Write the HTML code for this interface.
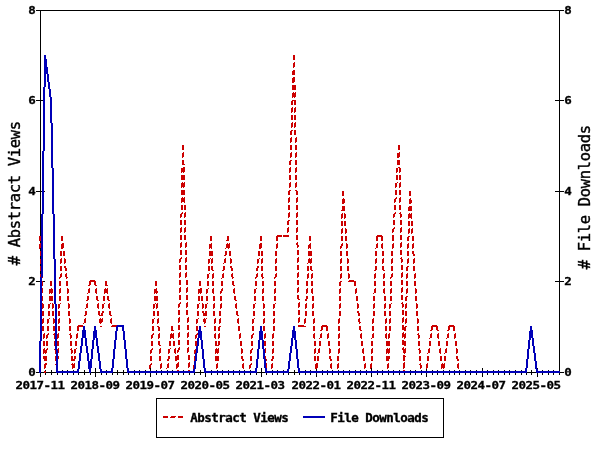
<!DOCTYPE html>
<html><head><meta charset="utf-8"><title>Abstract Views / File Downloads</title>
<style>html,body{margin:0;padding:0;background:#fff}svg{display:block}text{font-family:"DejaVu Sans Mono","Liberation Mono",monospace;font-weight:bold;fill:#000}.s{font-size:12.5px;letter-spacing:-0.526px;stroke:#000;stroke-width:0.35px}.g{font-size:15.5px;letter-spacing:-0.332px;font-weight:normal;stroke:#000;stroke-width:0.38px}</style></head><body>
<svg width="600" height="450" viewBox="0 0 600 450">
<rect width="600" height="450" fill="#fff"/>
<g shape-rendering="crispEdges" fill="none" stroke="#000" stroke-width="1">
<rect x="40.5" y="10.5" width="519" height="362"/>
<path d="M36,372.5H45M555,372.5H564M36,281.5H45M555,281.5H564M36,191.5H45M555,191.5H564M36,100.5H45M555,100.5H564M36,10.5H45M555,10.5H564M40.5,368V377M45.5,370V375M51.5,370V375M57.5,370V375M62.5,370V375M67.5,370V375M73.5,370V375M78.5,370V375M84.5,370V375M90.5,370V375M95.5,368V377M101.5,370V375M106.5,370V375M112.5,370V375M117.5,370V375M123.5,370V375M128.5,370V375M134.5,370V375M139.5,370V375M145.5,370V375M150.5,368V377M156.5,370V375M161.5,370V375M167.5,370V375M172.5,370V375M178.5,370V375M183.5,370V375M189.5,370V375M194.5,370V375M200.5,370V375M205.5,368V377M211.5,370V375M217.5,370V375M222.5,370V375M228.5,370V375M233.5,370V375M239.5,370V375M244.5,370V375M250.5,370V375M256.5,370V375M261.5,368V377M266.5,370V375M272.5,370V375M277.5,370V375M283.5,370V375M288.5,370V375M294.5,370V375M299.5,370V375M305.5,370V375M310.5,370V375M316.5,368V377M322.5,370V375M327.5,370V375M332.5,370V375M338.5,370V375M343.5,370V375M349.5,370V375M355.5,370V375M360.5,370V375M366.5,370V375M371.5,368V377M377.5,370V375M382.5,370V375M388.5,370V375M393.5,370V375M399.5,370V375M404.5,370V375M410.5,370V375M415.5,370V375M421.5,370V375M426.5,368V377M432.5,370V375M437.5,370V375M443.5,370V375M449.5,370V375M454.5,370V375M459.5,370V375M465.5,370V375M470.5,370V375M476.5,370V375M482.5,368V377M487.5,370V375M493.5,370V375M498.5,370V375M504.5,370V375M509.5,370V375M515.5,370V375M521.5,370V375M526.5,370V375M531.5,370V375M537.5,368V377M542.5,370V375M548.5,370V375M553.5,370V375M559.5,370V375"/>
<rect x="156.5" y="398.5" width="287" height="39"/>
</g>
<g shape-rendering="crispEdges" stroke="none">
<path fill="#cc0000" d="M293 55h2v5h-2zM294 62h1v1h-1zM293 63h2v4h-2zM293 67h1v1h-1zM293 70h2v1h-2zM292 71h3v4h-3zM293 77h2v1h-2zM292 78h3v4h-3zM292 82h2v1h-2zM292 85h4v5h-4zM293 92h1v1h-1zM295 92h1v1h-1zM292 93h4v4h-4zM292 97h1v1h-1zM294 97h1v1h-1zM292 100h4v1h-4zM291 101h2v4h-2zM294 101h2v4h-2zM292 107h1v1h-1zM295 107h1v1h-1zM291 108h2v4h-2zM294 108h2v4h-2zM291 112h1v1h-1zM294 112h1v1h-1zM291 115h2v5h-2zM294 115h2v5h-2zM292 122h1v1h-1zM295 122h1v1h-1zM291 123h2v4h-2zM294 123h2v4h-2zM291 127h1v1h-1zM294 127h1v1h-1zM291 130h2v1h-2zM290 131h2v4h-2zM294 130h2v5h-2zM291 137h1v1h-1zM296 137h1v1h-1zM290 138h2v4h-2zM295 138h2v4h-2zM290 142h1v1h-1zM295 142h1v1h-1zM182 145h2v5h-2zM290 145h2v5h-2zM295 145h2v5h-2zM398 145h2v5h-2zM183 152h1v1h-1zM291 152h1v1h-1zM296 152h1v1h-1zM399 152h1v1h-1zM182 153h2v4h-2zM290 153h2v4h-2zM295 153h2v4h-2zM397 153h3v4h-3zM182 157h1v1h-1zM290 157h1v1h-1zM295 157h1v1h-1zM397 157h2v1h-2zM290 160h2v1h-2zM182 160h2v4h-2zM182 164h3v1h-3zM289 161h2v4h-2zM295 160h2v5h-2zM397 160h3v5h-3zM183 167h2v1h-2zM290 167h1v1h-1zM296 167h1v1h-1zM398 167h2v1h-2zM181 168h4v4h-4zM289 168h2v4h-2zM295 168h2v4h-2zM396 168h2v4h-2zM399 168h2v4h-2zM181 172h1v1h-1zM183 172h1v1h-1zM289 172h1v1h-1zM295 172h1v1h-1zM396 172h1v1h-1zM399 172h1v1h-1zM181 175h4v5h-4zM289 175h2v5h-2zM295 175h2v5h-2zM396 175h2v5h-2zM399 175h2v5h-2zM182 182h1v1h-1zM184 182h1v1h-1zM290 182h1v1h-1zM296 182h1v1h-1zM397 182h1v1h-1zM400 182h1v1h-1zM181 183h4v4h-4zM289 183h2v4h-2zM295 183h2v4h-2zM395 183h2v4h-2zM399 183h2v4h-2zM181 187h1v1h-1zM183 187h1v1h-1zM289 187h1v1h-1zM295 187h1v1h-1zM395 187h1v1h-1zM399 187h1v1h-1zM289 190h2v1h-2zM295 190h2v1h-2zM181 190h4v5h-4zM288 191h2v4h-2zM296 191h2v4h-2zM395 190h2v5h-2zM399 190h2v5h-2zM342 191h2v5h-2zM409 191h2v5h-2zM182 197h1v1h-1zM184 197h1v1h-1zM289 197h1v1h-1zM297 197h1v1h-1zM396 197h1v1h-1zM400 197h1v1h-1zM343 198h1v1h-1zM395 198h2v1h-2zM410 198h1v1h-1zM409 199h2v1h-2zM181 198h4v4h-4zM288 198h2v4h-2zM296 198h2v4h-2zM394 199h2v3h-2zM399 198h2v4h-2zM181 202h1v1h-1zM184 202h1v1h-1zM288 202h1v1h-1zM296 202h1v1h-1zM342 199h3v4h-3zM394 202h1v1h-1zM399 202h1v1h-1zM409 200h3v3h-3zM342 203h2v1h-2zM409 203h2v1h-2zM409 206h3v1h-3zM181 205h2v5h-2zM184 205h2v5h-2zM288 205h2v5h-2zM296 205h2v5h-2zM342 206h3v4h-3zM394 205h2v5h-2zM399 205h2v5h-2zM341 210h4v1h-4zM408 207h4v4h-4zM182 212h1v1h-1zM185 212h1v1h-1zM289 212h1v1h-1zM297 212h1v1h-1zM395 212h1v1h-1zM400 212h1v1h-1zM181 213h2v1h-2zM342 213h1v1h-1zM344 213h1v1h-1zM394 213h2v1h-2zM399 213h2v1h-2zM409 213h1v1h-1zM411 213h1v1h-1zM180 214h2v3h-2zM184 213h2v4h-2zM288 213h2v4h-2zM296 213h2v4h-2zM393 214h2v3h-2zM400 214h2v3h-2zM180 217h1v1h-1zM184 217h1v1h-1zM288 217h1v1h-1zM296 217h1v1h-1zM341 214h2v4h-2zM344 214h2v4h-2zM393 217h1v1h-1zM400 217h1v1h-1zM408 214h4v4h-4zM341 218h1v1h-1zM344 218h1v1h-1zM408 218h1v1h-1zM411 218h1v1h-1zM288 220h2v1h-2zM180 220h2v5h-2zM184 220h2v5h-2zM287 221h2v4h-2zM296 220h2v5h-2zM393 220h2v5h-2zM400 220h2v5h-2zM341 221h2v5h-2zM344 221h2v5h-2zM408 221h2v5h-2zM411 221h2v5h-2zM181 227h1v1h-1zM185 227h1v1h-1zM288 227h1v1h-1zM297 227h1v1h-1zM394 227h1v1h-1zM401 227h1v1h-1zM342 228h1v1h-1zM345 228h1v1h-1zM393 228h2v1h-2zM409 228h1v1h-1zM412 228h1v1h-1zM180 228h2v4h-2zM184 228h2v4h-2zM287 228h2v4h-2zM296 228h2v4h-2zM392 229h2v3h-2zM400 228h2v4h-2zM180 232h1v1h-1zM184 232h1v1h-1zM287 232h1v1h-1zM296 232h1v1h-1zM341 229h2v4h-2zM345 229h2v4h-2zM392 232h1v1h-1zM400 232h1v1h-1zM408 229h2v4h-2zM411 229h2v4h-2zM341 233h1v1h-1zM345 233h1v1h-1zM408 233h1v1h-1zM411 233h1v1h-1zM277 235h5v1h-5zM377 235h5v1h-5zM276 236h6v1h-6zM283 235h6v2h-6zM376 236h7v1h-7zM408 236h2v1h-2zM180 235h2v5h-2zM184 235h2v5h-2zM227 236h2v4h-2zM296 235h2v5h-2zM400 235h2v5h-2zM39 236h2v5h-2zM61 236h2v5h-2zM210 236h2v5h-2zM226 240h3v1h-3zM260 236h2v5h-2zM276 237h2v4h-2zM309 236h2v5h-2zM341 236h2v5h-2zM345 236h2v5h-2zM376 237h2v4h-2zM381 237h2v4h-2zM392 235h2v6h-2zM407 237h2v4h-2zM412 236h2v5h-2zM181 242h1v1h-1zM186 242h1v1h-1zM297 242h1v1h-1zM401 242h1v1h-1zM40 243h1v1h-1zM62 243h2v1h-2zM211 243h1v1h-1zM227 243h1v1h-1zM229 243h1v1h-1zM260 243h2v1h-2zM277 243h1v1h-1zM310 243h1v1h-1zM342 243h1v1h-1zM346 243h1v1h-1zM377 243h1v1h-1zM382 243h1v1h-1zM393 243h1v1h-1zM408 243h1v1h-1zM413 243h1v1h-1zM296 243h2v2h-2zM309 244h2v1h-2zM341 244h2v2h-2zM180 243h2v4h-2zM185 243h2v4h-2zM297 245h2v2h-2zM400 243h2v4h-2zM39 244h2v4h-2zM61 244h3v4h-3zM180 247h1v1h-1zM185 247h1v1h-1zM209 244h3v4h-3zM226 244h4v4h-4zM259 244h3v4h-3zM276 244h2v4h-2zM297 247h1v1h-1zM308 245h3v3h-3zM340 246h2v2h-2zM346 244h2v4h-2zM376 244h2v4h-2zM381 244h2v4h-2zM392 244h2v4h-2zM400 247h1v1h-1zM407 244h2v4h-2zM412 244h2v4h-2zM39 248h1v1h-1zM61 248h2v1h-2zM209 248h1v1h-1zM211 248h1v1h-1zM225 248h1v1h-1zM228 248h1v1h-1zM259 248h2v1h-2zM276 248h1v1h-1zM308 248h1v1h-1zM310 248h1v1h-1zM340 248h1v1h-1zM346 248h1v1h-1zM375 248h1v1h-1zM382 248h1v1h-1zM392 248h1v1h-1zM407 248h1v1h-1zM412 248h1v1h-1zM412 251h2v3h-2zM180 250h2v5h-2zM185 250h2v5h-2zM225 251h2v4h-2zM297 250h2v5h-2zM400 250h2v5h-2zM40 251h1v5h-1zM60 251h2v5h-2zM63 251h2v5h-2zM209 251h4v5h-4zM224 255h2v1h-2zM229 251h2v5h-2zM258 251h2v5h-2zM261 251h2v5h-2zM275 251h2v5h-2zM308 251h4v5h-4zM340 251h2v5h-2zM346 251h2v5h-2zM375 251h2v5h-2zM382 251h2v5h-2zM391 251h2v5h-2zM407 251h2v5h-2zM413 254h2v2h-2zM181 257h1v1h-1zM186 257h1v1h-1zM298 257h1v1h-1zM401 257h1v1h-1zM61 258h1v1h-1zM64 258h1v1h-1zM180 258h2v1h-2zM210 258h1v1h-1zM212 258h1v1h-1zM225 258h1v1h-1zM230 258h1v1h-1zM259 258h1v1h-1zM262 258h1v1h-1zM276 258h1v1h-1zM309 258h1v1h-1zM311 258h1v1h-1zM341 258h1v1h-1zM347 258h1v1h-1zM376 258h1v1h-1zM383 258h1v1h-1zM392 258h1v1h-1zM400 258h2v1h-2zM408 258h1v1h-1zM414 258h1v1h-1zM179 259h2v3h-2zM185 258h2v4h-2zM297 258h2v4h-2zM401 259h2v3h-2zM60 259h2v4h-2zM64 259h2v4h-2zM179 262h1v1h-1zM185 262h1v1h-1zM208 259h2v4h-2zM211 259h2v4h-2zM224 259h2v4h-2zM230 259h2v4h-2zM257 259h2v4h-2zM261 259h2v4h-2zM275 259h2v4h-2zM297 262h1v1h-1zM308 259h4v4h-4zM340 259h2v4h-2zM347 259h2v4h-2zM375 259h2v4h-2zM382 259h2v4h-2zM391 259h2v4h-2zM401 262h1v1h-1zM407 259h2v4h-2zM413 259h2v4h-2zM40 259h1v5h-1zM60 263h1v1h-1zM64 263h1v1h-1zM208 263h1v1h-1zM211 263h1v1h-1zM223 263h1v1h-1zM230 263h1v1h-1zM257 263h1v1h-1zM261 263h1v1h-1zM275 263h1v1h-1zM307 263h1v1h-1zM310 263h1v1h-1zM340 263h1v1h-1zM347 263h1v1h-1zM375 263h1v1h-1zM382 263h1v1h-1zM391 263h1v1h-1zM407 263h1v1h-1zM413 263h1v1h-1zM407 266h2v1h-2zM64 266h2v2h-2zM230 266h2v2h-2zM257 266h2v2h-2zM179 265h2v5h-2zM185 265h2v5h-2zM211 266h2v4h-2zM223 266h2v4h-2zM297 265h2v5h-2zM310 266h2v4h-2zM375 266h2v4h-2zM382 266h2v4h-2zM401 265h2v5h-2zM40 266h1v5h-1zM60 266h2v5h-2zM65 268h2v3h-2zM208 266h2v5h-2zM212 270h2v1h-2zM222 270h2v1h-2zM231 268h2v3h-2zM256 268h2v3h-2zM261 266h2v5h-2zM275 266h2v5h-2zM307 266h2v5h-2zM311 270h2v1h-2zM340 266h2v5h-2zM347 266h2v5h-2zM374 270h2v1h-2zM383 270h2v1h-2zM391 266h2v5h-2zM406 267h2v4h-2zM413 266h2v5h-2zM180 272h1v1h-1zM186 272h1v1h-1zM298 272h1v1h-1zM402 272h1v1h-1zM61 273h1v1h-1zM66 273h1v1h-1zM209 273h1v1h-1zM213 273h1v1h-1zM223 273h1v1h-1zM232 273h1v1h-1zM257 273h1v1h-1zM262 273h1v1h-1zM276 273h1v1h-1zM308 273h1v1h-1zM312 273h1v1h-1zM341 273h1v1h-1zM348 273h1v1h-1zM375 273h1v1h-1zM384 273h1v1h-1zM392 273h1v1h-1zM407 273h1v1h-1zM415 273h1v1h-1zM40 274h1v3h-1zM60 274h2v3h-2zM65 274h2v3h-2zM179 273h2v4h-2zM185 273h2v4h-2zM231 274h2v3h-2zM256 274h2v3h-2zM261 274h2v3h-2zM275 274h2v3h-2zM297 273h2v4h-2zM391 274h2v3h-2zM401 273h2v4h-2zM42 277h1v1h-1zM59 277h2v1h-2zM66 277h2v1h-2zM179 277h1v1h-1zM185 277h1v1h-1zM207 274h2v4h-2zM212 274h2v4h-2zM222 274h2v4h-2zM232 277h2v1h-2zM255 277h2v1h-2zM262 277h2v1h-2zM274 277h2v1h-2zM297 277h1v1h-1zM307 274h2v4h-2zM311 274h2v4h-2zM340 274h2v4h-2zM348 274h2v4h-2zM374 274h2v4h-2zM383 274h2v4h-2zM390 277h2v1h-2zM401 277h1v1h-1zM406 274h2v4h-2zM414 274h2v4h-2zM59 278h1v1h-1zM66 278h1v1h-1zM207 278h1v1h-1zM212 278h1v1h-1zM221 278h1v1h-1zM232 278h1v1h-1zM255 278h1v1h-1zM262 278h1v1h-1zM274 278h1v1h-1zM307 278h1v1h-1zM311 278h1v1h-1zM340 278h1v1h-1zM348 278h1v1h-1zM374 278h1v1h-1zM383 278h1v1h-1zM390 278h1v1h-1zM406 278h1v1h-1zM414 278h1v1h-1zM90 280h5v1h-5zM349 280h5v1h-5zM89 281h7v1h-7zM340 281h2v1h-2zM348 281h8v1h-8zM89 282h2v3h-2zM94 282h2v3h-2zM105 281h2v4h-2zM179 280h2v5h-2zM186 280h2v5h-2zM232 281h2v4h-2zM297 280h2v5h-2zM401 280h2v5h-2zM42 281h1v5h-1zM50 281h2v5h-2zM59 281h2v5h-2zM66 281h2v5h-2zM88 285h2v1h-2zM95 285h2v1h-2zM105 285h3v1h-3zM155 281h2v5h-2zM199 281h2v5h-2zM207 281h2v5h-2zM212 281h2v5h-2zM221 281h2v5h-2zM233 285h2v1h-2zM255 281h2v5h-2zM262 281h2v5h-2zM274 281h2v5h-2zM306 281h2v5h-2zM311 281h2v5h-2zM339 282h2v4h-2zM354 282h2v4h-2zM374 281h2v5h-2zM383 281h2v5h-2zM390 281h2v5h-2zM406 281h2v5h-2zM414 281h2v5h-2zM180 287h1v1h-1zM187 287h1v1h-1zM298 287h1v1h-1zM402 287h1v1h-1zM51 288h1v1h-1zM60 288h1v1h-1zM67 288h1v1h-1zM89 288h1v1h-1zM96 288h1v1h-1zM105 288h1v1h-1zM107 288h1v1h-1zM156 288h1v1h-1zM200 288h2v1h-2zM208 288h1v1h-1zM213 288h1v1h-1zM222 288h1v1h-1zM234 288h1v1h-1zM256 288h1v1h-1zM263 288h1v1h-1zM275 288h1v1h-1zM307 288h1v1h-1zM312 288h1v1h-1zM340 288h1v1h-1zM356 288h1v1h-1zM375 288h1v1h-1zM384 288h1v1h-1zM391 288h1v1h-1zM407 288h1v1h-1zM415 288h1v1h-1zM154 289h3v2h-3zM221 289h2v2h-2zM179 288h2v4h-2zM186 288h2v4h-2zM297 288h2v4h-2zM401 288h2v4h-2zM42 288h1v5h-1zM49 289h4v4h-4zM59 289h2v4h-2zM67 289h2v4h-2zM88 289h2v4h-2zM95 289h2v4h-2zM104 289h4v4h-4zM154 291h4v2h-4zM179 292h1v1h-1zM186 292h1v1h-1zM198 289h4v4h-4zM206 289h2v4h-2zM212 289h2v4h-2zM220 291h2v2h-2zM233 289h2v4h-2zM254 289h2v4h-2zM262 289h2v4h-2zM274 289h2v4h-2zM297 292h1v1h-1zM306 289h2v4h-2zM311 289h2v4h-2zM339 289h2v4h-2zM355 289h2v4h-2zM374 289h2v4h-2zM383 289h2v4h-2zM390 289h2v4h-2zM401 292h1v1h-1zM406 289h2v4h-2zM415 289h2v4h-2zM49 293h1v1h-1zM51 293h1v1h-1zM59 293h1v1h-1zM67 293h1v1h-1zM87 293h1v1h-1zM96 293h1v1h-1zM104 293h1v1h-1zM107 293h1v1h-1zM154 293h1v1h-1zM156 293h1v1h-1zM198 293h1v1h-1zM200 293h1v1h-1zM206 293h1v1h-1zM213 293h1v1h-1zM220 293h1v1h-1zM234 293h1v1h-1zM254 293h1v1h-1zM262 293h1v1h-1zM274 293h1v1h-1zM306 293h1v1h-1zM312 293h1v1h-1zM339 293h1v1h-1zM355 293h1v1h-1zM373 293h1v1h-1zM384 293h1v1h-1zM390 293h1v1h-1zM406 293h1v1h-1zM415 293h1v1h-1zM406 296h2v1h-2zM297 295h2v4h-2zM306 296h2v3h-2zM87 296h2v4h-2zM96 296h2v4h-2zM107 296h2v4h-2zM179 295h2v5h-2zM186 295h2v5h-2zM234 296h2v4h-2zM298 299h2v1h-2zM401 295h2v5h-2zM42 296h1v5h-1zM49 296h4v5h-4zM59 296h2v5h-2zM67 296h2v5h-2zM86 300h2v1h-2zM97 300h2v1h-2zM103 296h2v5h-2zM108 300h2v1h-2zM154 296h4v5h-4zM198 296h2v5h-2zM201 296h2v5h-2zM206 296h2v5h-2zM213 296h2v5h-2zM220 296h2v5h-2zM235 300h2v1h-2zM254 296h2v5h-2zM262 296h2v5h-2zM274 296h2v5h-2zM305 299h2v2h-2zM312 296h2v5h-2zM339 296h2v5h-2zM356 296h2v5h-2zM373 296h2v5h-2zM384 296h2v5h-2zM390 296h2v5h-2zM405 297h2v4h-2zM415 296h2v5h-2zM180 302h1v1h-1zM187 302h1v1h-1zM299 302h1v1h-1zM402 302h1v1h-1zM42 303h1v1h-1zM50 303h1v1h-1zM52 303h1v1h-1zM60 303h1v1h-1zM68 303h1v1h-1zM87 303h1v1h-1zM98 303h1v1h-1zM104 303h1v1h-1zM109 303h1v1h-1zM155 303h1v1h-1zM157 303h1v1h-1zM179 303h2v1h-2zM199 303h1v1h-1zM202 303h1v1h-1zM207 303h1v1h-1zM214 303h1v1h-1zM221 303h1v1h-1zM236 303h1v1h-1zM255 303h1v1h-1zM263 303h1v1h-1zM275 303h1v1h-1zM306 303h1v1h-1zM313 303h1v1h-1zM340 303h1v1h-1zM357 303h1v1h-1zM374 303h1v1h-1zM385 303h1v1h-1zM391 303h1v1h-1zM401 303h2v1h-2zM406 303h1v1h-1zM416 303h1v1h-1zM178 304h2v3h-2zM186 303h2v4h-2zM298 303h2v4h-2zM402 304h2v3h-2zM42 304h2v4h-2zM48 304h2v4h-2zM52 304h2v4h-2zM58 304h2v4h-2zM68 304h2v4h-2zM86 304h2v4h-2zM97 304h2v4h-2zM102 304h2v4h-2zM108 304h2v4h-2zM153 304h2v4h-2zM156 304h2v4h-2zM178 307h1v1h-1zM186 307h1v1h-1zM197 304h2v4h-2zM202 304h2v4h-2zM205 304h2v4h-2zM213 304h2v4h-2zM220 304h2v4h-2zM235 304h2v4h-2zM253 304h2v4h-2zM263 304h2v4h-2zM273 304h2v4h-2zM298 307h1v1h-1zM305 304h2v4h-2zM312 304h2v4h-2zM339 304h2v4h-2zM357 304h2v4h-2zM373 304h2v4h-2zM384 304h2v4h-2zM389 304h2v4h-2zM402 307h1v1h-1zM405 304h2v4h-2zM416 304h2v4h-2zM42 308h1v1h-1zM48 308h1v1h-1zM52 308h1v1h-1zM58 308h1v1h-1zM68 308h1v1h-1zM85 308h1v1h-1zM98 308h1v1h-1zM102 308h1v1h-1zM109 308h1v1h-1zM153 308h1v1h-1zM156 308h1v1h-1zM197 308h1v1h-1zM202 308h1v1h-1zM205 308h1v1h-1zM213 308h1v1h-1zM220 308h1v1h-1zM236 308h1v1h-1zM253 308h1v1h-1zM263 308h1v1h-1zM273 308h1v1h-1zM305 308h1v1h-1zM312 308h1v1h-1zM339 308h1v1h-1zM357 308h1v1h-1zM373 308h1v1h-1zM384 308h1v1h-1zM389 308h1v1h-1zM405 308h1v1h-1zM416 308h1v1h-1zM102 311h2v2h-2zM202 311h2v2h-2zM205 311h2v2h-2zM357 311h2v2h-2zM85 311h2v4h-2zM98 311h2v4h-2zM101 313h2v2h-2zM109 311h2v4h-2zM178 310h2v5h-2zM186 310h2v5h-2zM236 311h2v4h-2zM298 310h2v5h-2zM402 310h2v5h-2zM42 311h2v5h-2zM48 311h2v5h-2zM52 311h2v5h-2zM58 311h2v5h-2zM68 311h2v5h-2zM84 315h2v1h-2zM99 315h4v1h-4zM110 315h2v1h-2zM153 311h2v5h-2zM157 311h2v5h-2zM197 311h2v5h-2zM203 313h4v3h-4zM213 311h2v5h-2zM219 311h2v5h-2zM237 315h2v1h-2zM253 311h2v5h-2zM263 311h2v5h-2zM273 311h2v5h-2zM305 311h2v5h-2zM312 311h2v5h-2zM339 311h2v5h-2zM358 313h2v3h-2zM373 311h2v5h-2zM384 311h2v5h-2zM389 311h2v5h-2zM405 311h2v5h-2zM416 311h2v5h-2zM179 317h1v1h-1zM188 317h1v1h-1zM299 317h1v1h-1zM403 317h1v1h-1zM43 318h1v1h-1zM49 318h1v1h-1zM53 318h1v1h-1zM59 318h1v1h-1zM69 318h1v1h-1zM85 318h1v1h-1zM100 318h1v1h-1zM102 318h1v1h-1zM111 318h1v1h-1zM154 318h1v1h-1zM158 318h1v1h-1zM198 318h1v1h-1zM204 318h1v1h-1zM206 318h1v1h-1zM215 318h1v1h-1zM220 318h1v1h-1zM238 318h1v1h-1zM254 318h1v1h-1zM264 318h1v1h-1zM274 318h1v1h-1zM305 318h1v1h-1zM314 318h1v1h-1zM339 318h1v1h-1zM359 318h1v1h-1zM373 318h1v1h-1zM386 318h1v1h-1zM390 318h1v1h-1zM406 318h1v1h-1zM417 318h1v1h-1zM99 319h4v3h-4zM178 318h2v4h-2zM187 318h2v4h-2zM203 319h3v3h-3zM298 318h2v4h-2zM358 319h2v3h-2zM402 318h2v4h-2zM42 319h2v4h-2zM47 319h2v4h-2zM53 319h2v4h-2zM58 319h2v4h-2zM69 319h2v4h-2zM84 319h2v4h-2zM99 322h3v1h-3zM110 319h2v4h-2zM152 319h2v4h-2zM157 319h2v4h-2zM178 322h1v1h-1zM187 322h1v1h-1zM196 319h2v4h-2zM204 322h2v1h-2zM214 319h2v4h-2zM219 319h2v4h-2zM237 319h2v4h-2zM252 319h2v4h-2zM263 319h2v4h-2zM273 319h2v4h-2zM298 322h1v1h-1zM304 319h2v4h-2zM313 319h2v4h-2zM338 319h2v4h-2zM359 322h2v1h-2zM372 319h2v4h-2zM385 319h2v4h-2zM389 319h2v4h-2zM402 322h1v1h-1zM405 319h2v4h-2zM417 319h2v4h-2zM42 323h1v1h-1zM47 323h1v1h-1zM53 323h1v1h-1zM58 323h1v1h-1zM69 323h1v1h-1zM83 323h1v1h-1zM100 323h1v1h-1zM111 323h1v1h-1zM152 323h1v1h-1zM157 323h1v1h-1zM196 323h1v1h-1zM204 323h1v1h-1zM214 323h1v1h-1zM219 323h1v1h-1zM238 323h1v1h-1zM252 323h1v1h-1zM263 323h1v1h-1zM273 323h1v1h-1zM304 323h1v1h-1zM313 323h1v1h-1zM338 323h1v1h-1zM359 323h1v1h-1zM372 323h1v1h-1zM385 323h1v1h-1zM389 323h1v1h-1zM405 323h1v1h-1zM417 323h1v1h-1zM78 325h5v1h-5zM112 325h5v1h-5zM298 325h6v1h-6zM322 325h5v1h-5zM432 325h5v1h-5zM449 325h5v1h-5zM77 326h6v1h-6zM100 326h2v1h-2zM111 326h5v1h-5zM157 326h2v1h-2zM204 326h2v1h-2zM219 326h2v1h-2zM298 326h8v1h-8zM321 326h7v1h-7zM402 325h2v2h-2zM405 326h2v1h-2zM431 326h7v1h-7zM448 326h7v1h-7zM171 326h2v4h-2zM178 325h2v5h-2zM187 325h2v5h-2zM321 327h2v3h-2zM359 326h2v4h-2zM402 327h4v3h-4zM431 327h2v3h-2zM436 327h2v3h-2zM448 327h2v3h-2zM42 326h2v5h-2zM47 326h2v5h-2zM53 326h2v5h-2zM58 326h2v5h-2zM69 326h2v5h-2zM77 327h2v4h-2zM152 326h2v5h-2zM158 327h2v4h-2zM171 330h3v1h-3zM196 326h2v5h-2zM214 326h2v5h-2zM218 327h2v4h-2zM238 326h2v5h-2zM252 326h2v5h-2zM263 326h2v5h-2zM273 326h2v5h-2zM313 326h2v5h-2zM320 330h2v1h-2zM326 327h2v4h-2zM338 326h2v5h-2zM360 330h2v1h-2zM372 326h2v5h-2zM385 326h2v5h-2zM389 326h2v5h-2zM404 330h2v1h-2zM417 326h2v5h-2zM430 330h2v1h-2zM437 330h2v1h-2zM447 330h2v1h-2zM453 327h2v4h-2zM179 332h1v1h-1zM188 332h1v1h-1zM403 332h1v1h-1zM44 333h1v1h-1zM48 333h1v1h-1zM54 333h1v1h-1zM58 333h1v1h-1zM70 333h1v1h-1zM77 333h1v1h-1zM153 333h1v1h-1zM159 333h1v1h-1zM171 333h1v1h-1zM173 333h1v1h-1zM197 333h1v1h-1zM215 333h1v1h-1zM219 333h1v1h-1zM240 333h1v1h-1zM253 333h1v1h-1zM265 333h1v1h-1zM273 333h1v1h-1zM314 333h1v1h-1zM321 333h1v1h-1zM328 333h1v1h-1zM339 333h1v1h-1zM361 333h1v1h-1zM373 333h1v1h-1zM386 333h1v1h-1zM389 333h1v1h-1zM402 333h2v1h-2zM405 333h1v1h-1zM418 333h1v1h-1zM431 333h1v1h-1zM438 333h1v1h-1zM448 333h1v1h-1zM455 333h1v1h-1zM47 334h2v1h-2zM53 334h2v1h-2zM69 334h2v1h-2zM152 334h2v1h-2zM196 334h2v1h-2zM252 334h2v1h-2zM417 334h2v1h-2zM178 333h2v4h-2zM187 333h2v4h-2zM402 334h4v3h-4zM43 334h2v4h-2zM46 335h2v3h-2zM57 334h2v4h-2zM70 335h2v3h-2zM76 334h2v4h-2zM151 335h2v3h-2zM158 334h2v4h-2zM170 334h4v4h-4zM178 337h1v1h-1zM187 337h1v1h-1zM195 335h2v3h-2zM214 334h2v4h-2zM218 334h2v4h-2zM239 334h2v4h-2zM251 335h2v3h-2zM264 334h2v4h-2zM272 334h2v4h-2zM313 334h2v4h-2zM320 334h2v4h-2zM327 334h2v4h-2zM338 334h2v4h-2zM360 334h2v4h-2zM372 334h2v4h-2zM385 334h2v4h-2zM388 334h2v4h-2zM402 337h1v1h-1zM404 337h2v1h-2zM418 335h2v3h-2zM430 334h2v4h-2zM437 334h2v4h-2zM447 334h2v4h-2zM454 334h2v4h-2zM43 338h1v1h-1zM46 338h1v1h-1zM54 335h1v4h-1zM57 338h1v1h-1zM70 338h1v1h-1zM76 338h1v1h-1zM151 338h1v1h-1zM158 338h1v1h-1zM170 338h1v1h-1zM173 338h1v1h-1zM195 338h1v1h-1zM215 338h1v1h-1zM218 338h1v1h-1zM239 338h1v1h-1zM251 338h1v1h-1zM264 338h1v1h-1zM272 338h1v1h-1zM314 338h1v1h-1zM319 338h1v1h-1zM327 338h1v1h-1zM338 338h1v1h-1zM361 338h1v1h-1zM371 338h1v1h-1zM386 338h1v1h-1zM388 338h1v1h-1zM404 338h1v1h-1zM418 338h1v1h-1zM429 338h1v1h-1zM438 338h1v1h-1zM446 338h1v1h-1zM454 338h1v1h-1zM402 340h2v1h-2zM158 341h2v4h-2zM178 340h2v5h-2zM187 340h2v5h-2zM215 341h2v4h-2zM218 341h2v4h-2zM402 341h4v4h-4zM43 341h2v5h-2zM46 341h2v5h-2zM54 341h1v5h-1zM57 341h2v5h-2zM70 341h2v5h-2zM75 341h2v5h-2zM151 341h2v5h-2zM159 345h2v1h-2zM169 341h2v5h-2zM173 341h2v5h-2zM195 341h2v5h-2zM215 345h4v1h-4zM240 341h2v5h-2zM251 341h2v5h-2zM264 341h2v5h-2zM272 341h2v5h-2zM314 341h2v5h-2zM319 341h2v5h-2zM328 341h2v5h-2zM338 341h2v5h-2zM361 341h2v5h-2zM371 341h2v5h-2zM386 341h4v5h-4zM404 345h2v1h-2zM418 341h2v5h-2zM429 341h2v5h-2zM438 341h2v5h-2zM446 341h2v5h-2zM455 341h2v5h-2zM179 347h1v1h-1zM188 347h1v1h-1zM403 347h1v1h-1zM44 348h1v1h-1zM47 348h1v1h-1zM58 348h1v1h-1zM71 348h1v1h-1zM76 348h1v1h-1zM152 348h1v1h-1zM160 348h1v1h-1zM170 348h1v1h-1zM175 348h1v1h-1zM216 348h1v1h-1zM218 348h1v1h-1zM241 348h1v1h-1zM252 348h1v1h-1zM273 348h1v1h-1zM315 348h1v1h-1zM319 348h1v1h-1zM329 348h1v1h-1zM339 348h1v1h-1zM363 348h1v1h-1zM372 348h1v1h-1zM387 348h1v1h-1zM389 348h1v1h-1zM402 348h2v1h-2zM405 348h1v1h-1zM419 348h1v1h-1zM429 348h1v1h-1zM440 348h1v1h-1zM446 348h1v1h-1zM456 348h1v1h-1zM43 349h2v1h-2zM46 349h2v1h-2zM54 349h1v1h-1zM57 349h2v1h-2zM70 349h2v1h-2zM151 349h2v1h-2zM178 348h2v2h-2zM195 349h1v1h-1zM251 349h2v1h-2zM402 349h4v1h-4zM418 349h2v1h-2zM177 350h2v2h-2zM187 348h2v4h-2zM43 350h4v3h-4zM58 350h1v3h-1zM71 350h2v3h-2zM74 349h2v4h-2zM150 350h2v3h-2zM159 349h2v4h-2zM168 349h2v4h-2zM174 349h2v4h-2zM177 352h1v1h-1zM187 352h1v1h-1zM194 350h2v3h-2zM215 349h4v4h-4zM241 349h2v4h-2zM250 350h2v3h-2zM265 348h1v5h-1zM272 349h2v4h-2zM314 349h2v4h-2zM318 349h2v4h-2zM329 349h2v4h-2zM338 349h2v4h-2zM362 349h2v4h-2zM371 349h2v4h-2zM386 349h4v4h-4zM403 350h3v3h-3zM419 350h2v3h-2zM428 349h2v4h-2zM439 349h2v4h-2zM445 349h2v4h-2zM456 349h2v4h-2zM43 353h1v1h-1zM45 353h1v1h-1zM55 350h1v4h-1zM71 353h1v1h-1zM74 353h1v1h-1zM150 353h1v1h-1zM159 353h1v1h-1zM168 353h1v1h-1zM175 353h1v1h-1zM194 353h1v1h-1zM215 353h1v1h-1zM217 353h1v1h-1zM241 353h1v1h-1zM250 353h1v1h-1zM272 353h1v1h-1zM314 353h1v1h-1zM317 353h1v1h-1zM329 353h1v1h-1zM338 353h1v1h-1zM363 353h1v1h-1zM371 353h1v1h-1zM386 353h1v1h-1zM388 353h1v1h-1zM404 353h1v1h-1zM419 353h1v1h-1zM427 353h1v1h-1zM440 353h1v1h-1zM444 353h1v1h-1zM456 353h1v1h-1zM177 355h2v1h-2zM403 355h2v1h-2zM403 356h3v1h-3zM43 356h4v3h-4zM58 356h1v3h-1zM71 356h2v3h-2zM74 356h2v3h-2zM168 356h2v3h-2zM241 356h2v3h-2zM265 356h1v3h-1zM272 356h2v3h-2zM329 356h2v3h-2zM386 356h4v3h-4zM456 356h2v3h-2zM175 356h4v4h-4zM188 355h2v5h-2zM44 359h3v2h-3zM55 356h1v5h-1zM71 359h4v2h-4zM150 356h2v5h-2zM159 356h2v5h-2zM167 359h2v2h-2zM175 360h2v1h-2zM194 356h1v5h-1zM215 356h4v5h-4zM242 359h2v2h-2zM250 356h2v5h-2zM266 359h1v2h-1zM271 359h2v2h-2zM314 356h2v5h-2zM317 356h2v5h-2zM330 359h2v2h-2zM337 356h2v5h-2zM363 356h2v5h-2zM371 356h2v5h-2zM386 359h3v2h-3zM403 357h2v4h-2zM419 356h2v5h-2zM427 356h2v5h-2zM440 356h2v5h-2zM444 356h2v5h-2zM457 359h2v2h-2zM178 362h1v1h-1zM189 362h1v1h-1zM404 362h1v1h-1zM45 363h2v1h-2zM72 363h1v1h-1zM74 363h1v1h-1zM151 363h1v1h-1zM161 363h1v1h-1zM168 363h1v1h-1zM177 363h2v1h-2zM217 363h1v1h-1zM243 363h1v1h-1zM251 363h1v1h-1zM272 363h1v1h-1zM316 363h2v1h-2zM331 363h1v1h-1zM338 363h1v1h-1zM365 363h1v1h-1zM371 363h1v1h-1zM388 363h1v1h-1zM420 363h1v1h-1zM427 363h1v1h-1zM442 363h1v1h-1zM444 363h1v1h-1zM458 363h1v1h-1zM44 364h3v1h-3zM55 364h1v1h-1zM71 364h4v1h-4zM150 364h2v1h-2zM250 364h2v1h-2zM419 364h2v1h-2zM176 364h3v3h-3zM188 363h2v4h-2zM44 365h2v3h-2zM72 365h3v3h-3zM149 365h2v3h-2zM160 364h2v4h-2zM167 364h2v4h-2zM176 367h2v1h-2zM188 367h1v1h-1zM216 364h2v4h-2zM242 364h2v4h-2zM249 365h2v3h-2zM266 363h1v5h-1zM271 364h2v4h-2zM315 364h3v4h-3zM330 364h2v4h-2zM337 364h2v4h-2zM364 364h2v4h-2zM370 364h2v4h-2zM387 364h2v4h-2zM403 363h2v5h-2zM420 365h2v3h-2zM426 364h2v4h-2zM441 364h4v4h-4zM457 364h2v4h-2zM44 368h1v1h-1zM72 368h1v1h-1zM149 368h1v1h-1zM160 368h1v1h-1zM166 368h1v1h-1zM176 368h1v1h-1zM193 365h1v4h-1zM216 368h1v1h-1zM243 368h1v1h-1zM249 368h1v1h-1zM271 368h1v1h-1zM315 368h2v1h-2zM331 368h1v1h-1zM337 368h1v1h-1zM364 368h1v1h-1zM370 368h1v1h-1zM387 368h1v1h-1zM403 368h1v1h-1zM420 368h1v1h-1zM426 368h1v1h-1zM441 368h1v1h-1zM443 368h1v1h-1zM458 368h1v1h-1zM177 370h2v1h-2zM188 370h2v1h-2zM403 370h2v1h-2zM44 371h2v2h-2zM171 416h5v1h-5zM163 416h5v2h-5zM170 417h5v1h-5zM178 416h5v2h-5z"/>
<path fill="#0000b8" d="M44 55h2v4h-2zM44 59h3v8h-3zM44 67h4v7h-4zM47 74h2v8h-2zM44 74h2v13h-2zM48 82h2v7h-2zM49 89h2v8h-2zM50 97h2v26h-2zM43 87h2v64h-2zM51 123h2v45h-2zM42 151h2v63h-2zM52 168h2v46h-2zM53 214h2v45h-2zM41 214h2v63h-2zM54 259h2v45h-2zM117 325h7v1h-7zM116 326h8v1h-8zM83 326h2v4h-2zM94 326h2v4h-2zM199 326h2v4h-2zM293 326h2v4h-2zM530 326h2v4h-2zM94 330h3v1h-3zM116 327h2v4h-2zM122 327h2v4h-2zM198 330h3v1h-3zM260 326h2v5h-2zM292 330h3v1h-3zM530 330h3v1h-3zM82 330h4v8h-4zM93 331h4v7h-4zM198 331h4v7h-4zM292 331h4v7h-4zM529 331h4v7h-4zM93 338h2v2h-2zM115 331h2v9h-2zM123 331h2v9h-2zM200 338h2v2h-2zM259 331h4v9h-4zM294 338h2v2h-2zM529 338h2v2h-2zM40 277h2v64h-2zM81 338h2v8h-2zM85 338h2v8h-2zM96 338h2v8h-2zM197 338h2v8h-2zM291 338h2v8h-2zM532 338h2v8h-2zM92 340h2v9h-2zM114 340h2v9h-2zM124 340h2v9h-2zM201 340h2v9h-2zM258 340h2v9h-2zM262 340h2v9h-2zM295 340h2v9h-2zM528 340h2v9h-2zM55 304h2v46h-2zM80 346h2v7h-2zM86 346h2v7h-2zM97 346h2v7h-2zM196 346h2v7h-2zM290 346h2v7h-2zM533 346h2v7h-2zM91 349h2v10h-2zM113 349h2v10h-2zM125 349h2v10h-2zM202 349h2v10h-2zM257 349h2v10h-2zM263 349h2v10h-2zM296 349h2v10h-2zM527 349h2v10h-2zM79 353h2v8h-2zM87 353h2v8h-2zM90 359h2v2h-2zM98 353h2v8h-2zM195 353h2v8h-2zM289 353h2v8h-2zM534 353h2v8h-2zM88 361h4v7h-4zM112 359h2v9h-2zM126 359h2v9h-2zM203 359h2v9h-2zM256 359h2v9h-2zM264 359h2v9h-2zM297 359h2v9h-2zM526 359h2v9h-2zM78 361h2v8h-2zM88 368h3v1h-3zM99 361h2v8h-2zM194 361h2v8h-2zM288 361h2v8h-2zM535 361h2v8h-2zM56 350h2v21h-2zM77 369h2v2h-2zM100 369h2v2h-2zM111 368h2v3h-2zM127 368h2v3h-2zM193 369h2v2h-2zM204 368h2v3h-2zM255 368h2v3h-2zM265 368h2v3h-2zM287 369h2v2h-2zM298 368h2v3h-2zM525 368h2v3h-2zM536 369h2v2h-2zM39 341h2v32h-2zM56 371h23v2h-23zM89 369h2v4h-2zM100 371h13v2h-13zM127 371h68v2h-68zM204 371h53v2h-53zM265 371h24v2h-24zM298 371h229v2h-229zM536 371h24v2h-24zM303 416h22v2h-22z"/>
</g>
<text class="s" transform="translate(28.2,376.3) scale(1,0.9)">0</text>
<text class="s" transform="translate(564.2,376.3) scale(1,0.9)">0</text>
<text class="s" transform="translate(28.2,285.3) scale(1,0.9)">2</text>
<text class="s" transform="translate(564.2,285.3) scale(1,0.9)">2</text>
<text class="s" transform="translate(28.2,195.3) scale(1,0.9)">4</text>
<text class="s" transform="translate(564.2,195.3) scale(1,0.9)">4</text>
<text class="s" transform="translate(28.2,104.3) scale(1,0.9)">6</text>
<text class="s" transform="translate(564.2,104.3) scale(1,0.9)">6</text>
<text class="s" transform="translate(28.2,14.3) scale(1,0.9)">8</text>
<text class="s" transform="translate(564.2,14.3) scale(1,0.9)">8</text>
<text class="s" transform="translate(15.6,389.2) scale(1,0.9)">2017-11</text>
<text class="s" transform="translate(70.6,389.2) scale(1,0.9)">2018-09</text>
<text class="s" transform="translate(125.6,389.2) scale(1,0.9)">2019-07</text>
<text class="s" transform="translate(180.6,389.2) scale(1,0.9)">2020-05</text>
<text class="s" transform="translate(235.6,389.2) scale(1,0.9)">2021-03</text>
<text class="s" transform="translate(291.6,389.2) scale(1,0.9)">2022-01</text>
<text class="s" transform="translate(346.6,389.2) scale(1,0.9)">2022-11</text>
<text class="s" transform="translate(401.6,389.2) scale(1,0.9)">2023-09</text>
<text class="s" transform="translate(456.6,389.2) scale(1,0.9)">2024-07</text>
<text class="s" transform="translate(511.6,389.2) scale(1,0.9)">2025-05</text>
<text class="g" transform="translate(20.2,265.3) rotate(-90) scale(1,1)"># Abstract Views</text>
<text class="g" transform="translate(590.2,269.3) rotate(-90) scale(1,1)"># File Downloads</text>
<text class="s" transform="translate(190.2,421.8) scale(1,0.96)">Abstract Views</text>
<text class="s" transform="translate(330.2,421.8) scale(1,0.96)">File Downloads</text>
</svg></body></html>
